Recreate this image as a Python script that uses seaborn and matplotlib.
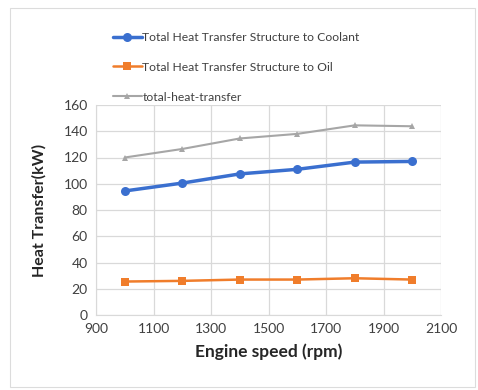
import matplotlib
matplotlib.use("Agg")
import matplotlib.pyplot as plt
import seaborn as sns
import pandas as pd
from matplotlib.patches import Rectangle

speed = [1000, 1200, 1400, 1600, 1800, 2000]
coolant = [94.5, 100.5, 107.5, 111.0, 116.5, 117.0]
oil = [25.5, 26.0, 27.0, 27.0, 28.0, 27.0]
total = [120.0, 126.5, 134.5, 138.0, 144.5, 143.8]
names = ["Total Heat Transfer Structure to Coolant",
         "Total Heat Transfer Structure to Oil",
         "total-heat-transfer"]
colors = ["#3a6fcf", "#f07d2b", "#a6a6a6"]
markers = ["o", "s", "^"]
sizes = [8, 7, 6]
widths = [2.5, 1.8, 1.5]

sns.set_style("white")
plt.rcParams['font.family'] = ['Lato', 'DejaVu Sans']

fig = plt.figure(figsize=(4.78, 3.9), dpi=100)
fig.patches.append(Rectangle((10/478, 3/390), 465/478, 379/390, transform=fig.transFigure,
                             fill=False, edgecolor="#dcdcdc", linewidth=0.8))
ax = fig.add_axes([96/478, 1-315/390, (441-96)/478, (315-105)/390])

df = pd.DataFrame({"speed": speed * 3,
                   "value": coolant + oil + total,
                   "series": [names[0]]*6 + [names[1]]*6 + [names[2]]*6})
for i, n in enumerate(names):
    sub = df[df.series == n]
    sns.lineplot(data=sub, x="speed", y="value", ax=ax, color=colors[i],
                 marker=markers[i], markersize=sizes[i], linewidth=widths[i],
                 markeredgewidth=0, label=n, legend=False)

ax.set_xlim(900, 2100)
ax.set_ylim(0, 160)
ax.set_xticks(range(900, 2101, 200))
ax.set_yticks(range(0, 161, 20))
ax.grid(True, color="#d9d9d9", linewidth=0.9)
for s in ["top", "right"]:
    ax.spines[s].set_visible(False)
ax.spines["left"].set_color("#d9d9d9")
ax.spines["bottom"].set_color("#d9d9d9")
ax.tick_params(axis="both", labelsize=10, colors="#404040", length=0, pad=6)
ax.set_xlabel("Engine speed (rpm)", fontsize=12.5, fontweight="bold", color="#262626", labelpad=6)
ax.set_ylabel("Heat Transfer(kW)", fontsize=11.5, fontweight="bold", color="#262626", labelpad=12)

h, l = ax.get_legend_handles_labels()
for hh, s in zip(h, [6.5, 5.5, 5]):
    hh.set_markersize(s)
leg = fig.legend(h, l, loc="upper left", bbox_to_anchor=(108/478, 1-27/390),
                 frameon=False, fontsize=8.7, labelspacing=1.56, handlelength=2.4,
                 handletextpad=0.05, borderaxespad=0)
for t in leg.get_texts():
    t.set_color("#404040")

fig.savefig("out.png", dpi=100)
